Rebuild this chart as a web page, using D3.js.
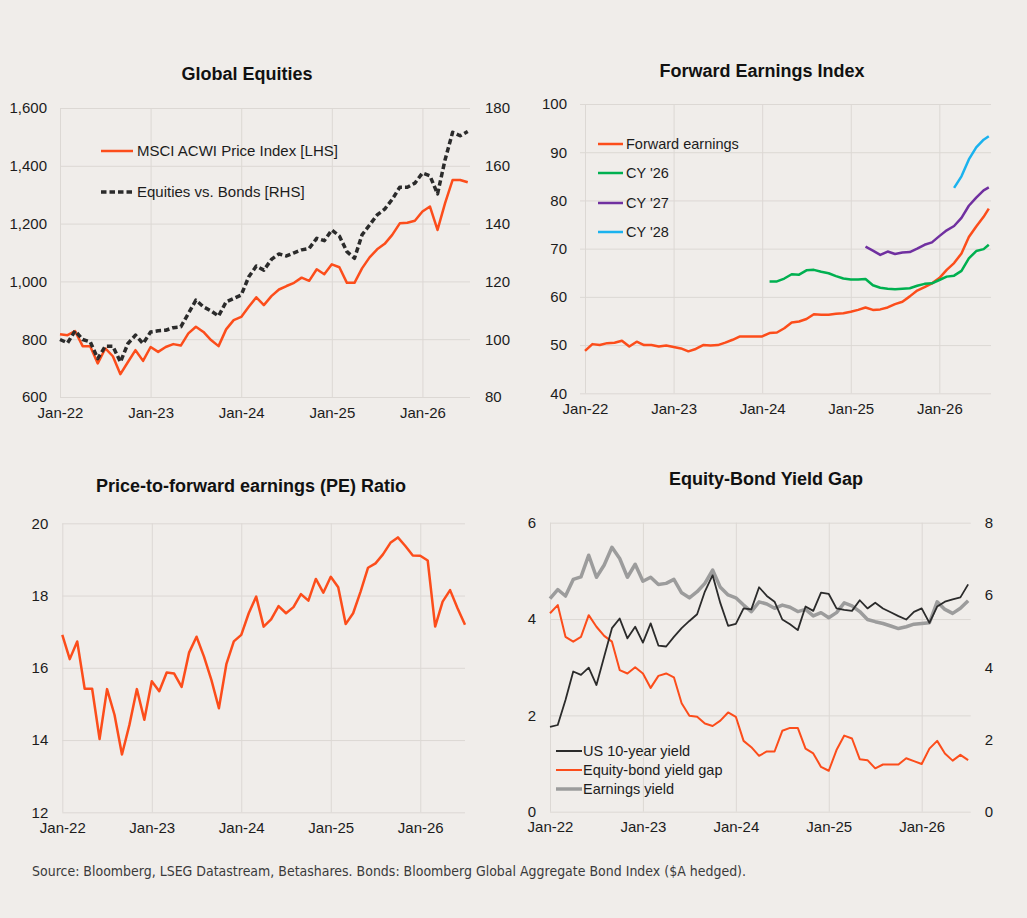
<!DOCTYPE html>
<html>
<head>
<meta charset="utf-8">
<script type="text/javascript" src="https://cdn.jsdelivr.net/npm/d3@7/dist/d3.min.js"></script>
<style>
body { margin: 0; background: #f0edea; }
</style>
</head>
<body>
<script>

// month-end data, index 0 = Jan-22
var months = d3.range(55);
var yearTicks = [0, 12, 24, 36, 48];
var yearLabels = ["Jan-22", "Jan-23", "Jan-24", "Jan-25", "Jan-26"];

// Global Equities
var msci = [817,814,828,776,776,716,768,741,679,721,
            762,725,773,756,773,783,778,820,843,825,
            797,776,834,866,877,912,945,918,949,972,
            984,995,1013,1002,1042,1025,1059,1049,995,995,
            1045,1083,1111,1130,1161,1201,1203,1210,1242,1259,
            1178,1271,1351,1351,1343];
var eqVsBonds = [99.9,98.7,102.9,99.9,99.1,93.3,97.6,97.6,92.1,98.5,
                 101.4,98.5,102.5,102.9,103.1,104.0,104.3,108.9,113.5,111.2,
                 109.8,108.0,112.9,114.1,115.3,121.6,125.3,123.9,127.6,129.5,
                 128.8,129.9,130.9,131.4,134.9,134.1,137.8,135.7,130.3,128.0,
                 136.1,139.5,143.0,145.0,148.4,152.6,152.6,154.0,157.5,156.5,
                 150.3,162.1,171.6,170.4,171.9];

// Forward Earnings Index (last observation is mid-month)
var fwdMonths = d3.range(55).concat([54.7]);
var fwdEarnings = [48.8,50.2,50.0,50.4,50.5,50.9,49.7,50.7,50.0,50.0,
                   49.7,49.9,49.6,49.3,48.7,49.2,50.0,49.9,50.0,50.5,
                   51.1,51.8,51.8,51.8,51.8,52.5,52.6,53.5,54.7,54.9,
                   55.4,56.4,56.3,56.3,56.5,56.6,56.9,57.3,57.8,57.3,
                   57.4,57.8,58.5,59.0,60.1,61.3,62.0,62.8,63.9,65.6,
                   67.0,69.0,72.4,74.6,76.6,78.3];
var cy26Start = 25;
var cy26 = [63.2,63.2,63.8,64.7,64.6,
            65.5,65.6,65.2,64.9,64.3,63.8,63.6,63.6,63.7,62.4,
            61.9,61.7,61.6,61.7,61.8,62.3,62.7,62.8,63.5,64.2,
            64.4,65.4,68.0,69.5,69.9,70.8];
var cy27Start = 38;
var cy27 = [70.4,69.6,
            68.7,69.4,68.9,69.2,69.3,70.0,70.8,71.3,72.6,73.8,
            74.7,76.4,78.9,80.6,82.1,82.7];
var cy28Start = 50;
var cy28 = [82.6,85.0,88.5,91.0,92.6,93.3];

// PE ratio
var peRatio = [16.91,16.24,16.73,15.42,15.42,14.03,15.41,14.70,13.60,14.42,
               15.41,14.56,15.63,15.35,15.87,15.84,15.47,16.42,16.86,16.31,
               15.66,14.88,16.10,16.73,16.91,17.51,17.97,17.14,17.34,17.71,
               17.51,17.68,18.04,17.86,18.46,18.08,18.52,18.23,17.21,17.51,
               18.11,18.77,18.89,19.14,19.46,19.61,19.37,19.11,19.10,18.97,
               17.14,17.83,18.15,17.65,17.19];

// Equity-bond yield gap
var us10y = [1.76,1.80,2.32,2.91,2.84,2.99,2.63,3.22,3.81,4.01,
             3.60,3.84,3.51,3.91,3.45,3.43,3.63,3.81,3.96,4.10,
             4.57,4.91,4.33,3.86,3.90,4.22,4.20,4.66,4.48,4.36,
             3.99,3.89,3.77,4.26,4.17,4.55,4.52,4.22,4.19,4.17,
             4.39,4.22,4.34,4.22,4.14,4.06,3.99,4.15,4.22,3.92,
             4.26,4.36,4.41,4.45,4.72];
var yieldGap = [4.12,4.29,3.63,3.53,3.63,4.08,3.84,3.65,3.53,2.94,
                2.87,3.00,2.87,2.57,2.82,2.87,2.79,2.25,1.99,1.97,
                1.83,1.78,1.89,2.06,1.97,1.47,1.34,1.16,1.25,1.25,
                1.68,1.74,1.74,1.31,1.21,0.93,0.85,1.28,1.58,1.52,
                1.09,1.07,0.90,0.98,0.98,0.98,1.11,1.05,0.99,1.31,
                1.47,1.21,1.06,1.18,1.07];
var earningsYield = [5.90,6.15,5.97,6.43,6.50,7.10,6.49,6.83,7.32,7.01,
                     6.49,6.85,6.38,6.49,6.29,6.32,6.43,6.06,5.92,6.09,
                     6.32,6.69,6.21,6.00,5.92,5.72,5.54,5.81,5.75,5.63,
                     5.72,5.66,5.54,5.60,5.42,5.51,5.37,5.51,5.78,5.70,
                     5.54,5.32,5.26,5.21,5.14,5.07,5.12,5.19,5.21,5.23,
                     5.81,5.60,5.49,5.63,5.84];

var width = 1027,
    height = 918,
    fontFamily = "'Liberation Sans', Arial, sans-serif",
    textColor = "#1c1c1c",
    gridColor = "#dcd8d4",
    orange = "#fc4d1b",
    darkGrey = "#2b2b2b",
    grey = "#9c9c9c",
    green = "#00b050",
    purple = "#7030a0",
    blue = "#1ab2ee";

var svg = d3.select("body").append("svg")
            .attr("width", width)
            .attr("height", height)
            .style("display", "block")
            .style("background", "#f0edea");

function styleAxis(sel, size) {
  sel.select(".domain").remove();
  sel.attr("font-family", fontFamily).attr("font-size", size);
  sel.selectAll("text").attr("fill", textColor);
}

// one chart panel: gridlines, tick labels and title
function panel(p) {
  var x = d3.scaleLinear().domain(p.xd).range([p.left, p.right]);
  var y = d3.scaleLinear().domain(p.yd).range([p.bottom, p.top]);
  var g = svg.append("g");

  g.append("g").attr("transform", "translate(" + p.left + ",0)")
   .call(d3.axisLeft(y).tickValues(p.yt).tickSize(-(p.right - p.left)).tickFormat(""))
   .call(styleAxis, 15)
   .selectAll("line").attr("stroke", gridColor);

  g.append("g").attr("transform", "translate(0," + p.bottom + ")")
   .call(d3.axisBottom(x).tickValues(yearTicks).tickSize(-(p.bottom - p.top)).tickFormat(""))
   .call(styleAxis, 15)
   .selectAll("line").attr("stroke", gridColor);

  g.append("g").attr("transform", "translate(0," + p.bottom + ")")
   .call(d3.axisBottom(x).tickValues(yearTicks).tickSize(0).tickPadding(10)
           .tickFormat(function (d, i) { return yearLabels[i]; }))
   .call(styleAxis, 15);

  g.append("g").attr("transform", "translate(" + p.left + ",0)")
   .call(d3.axisLeft(y).tickValues(p.yt).tickSize(0).tickPadding(p.lpad).tickFormat(p.fmt || d3.format("")))
   .call(styleAxis, 15);

  var y2 = null;
  if (p.y2d) {
    y2 = d3.scaleLinear().domain(p.y2d).range([p.bottom, p.top]);
    g.append("g").attr("transform", "translate(" + p.right + ",0)")
     .call(d3.axisRight(y2).tickValues(p.y2t).tickSize(0).tickPadding(p.rpad))
     .call(styleAxis, 15);
  }

  g.append("text")
   .attr("x", p.tx).attr("y", p.ty)
   .attr("text-anchor", "middle")
   .style("font", "bold 18px " + fontFamily)
   .style("fill", "#111")
   .text(p.title);

  return {x: x, y: y, y2: y2, g: g};
}

function drawLine(g, xs, ys, x, y, color, w, dash) {
  var line = d3.line()
               .x(function (d, i) { return x(xs[i]); })
               .y(function (d) { return y(d); });
  g.append("path")
   .datum(ys)
   .attr("d", line)
   .attr("fill", "none")
   .attr("stroke", color)
   .attr("stroke-width", w)
   .attr("stroke-linejoin", "round")
   .attr("stroke-dasharray", dash || null);
}

function legend(g, items, x0, x1, tx, size) {
  items.forEach(function (it) {
    g.append("line")
     .attr("x1", x0).attr("x2", x1).attr("y1", it.y).attr("y2", it.y)
     .attr("stroke", it.color).attr("stroke-width", it.w)
     .attr("stroke-dasharray", it.dash || null);
    g.append("text")
     .attr("x", tx).attr("y", it.y + 5)
     .style("font", size + "px " + fontFamily)
     .style("fill", textColor)
     .text(it.label);
  });
}

// --- Global Equities ---
var p1 = panel({left: 60, right: 470, top: 108, bottom: 397,
                xd: [0, 54.3], yd: [600, 1600], yt: d3.range(600, 1601, 200),
                fmt: d3.format(","), lpad: 13,
                y2d: [80, 180], y2t: d3.range(80, 181, 20), rpad: 15,
                title: "Global Equities", tx: 247, ty: 80});
drawLine(p1.g, months, msci, p1.x, p1.y, orange, 2.5);
drawLine(p1.g, months, eqVsBonds, p1.x, p1.y2, darkGrey, 3.5, "5.5,3");
legend(p1.g, [
  {label: "MSCI ACWI Price Index [LHS]", color: orange, w: 2.5, y: 151},
  {label: "Equities vs. Bonds [RHS]", color: darkGrey, w: 3.5, dash: "5.5,3", y: 192}
], 101, 133, 137, 15);

// --- Forward Earnings Index ---
var p2 = panel({left: 580, right: 991, top: 104, bottom: 393.3,
                xd: [-0.68, 55.0], yd: [40, 100], yt: d3.range(40, 101, 10), lpad: 13,
                title: "Forward Earnings Index", tx: 762, ty: 77});
drawLine(p2.g, fwdMonths, fwdEarnings, p2.x, p2.y, orange, 2.5);
drawLine(p2.g, fwdMonths.slice(cy26Start), cy26, p2.x, p2.y, green, 2.5);
drawLine(p2.g, fwdMonths.slice(cy27Start), cy27, p2.x, p2.y, purple, 2.5);
drawLine(p2.g, fwdMonths.slice(cy28Start), cy28, p2.x, p2.y, blue, 2.5);
legend(p2.g, [
  {label: "Forward earnings", color: orange, w: 2.5, y: 144},
  {label: "CY '26", color: green, w: 2.5, y: 173},
  {label: "CY '27", color: purple, w: 2.5, y: 203},
  {label: "CY '28", color: blue, w: 2.5, y: 232}
], 598, 623, 626, 14.5);

// --- PE ratio ---
var p3 = panel({left: 62.3, right: 465, top: 523.3, bottom: 812.3,
                xd: [0, 54], yd: [12, 20], yt: d3.range(12, 21, 2), lpad: 14,
                title: "Price-to-forward earnings (PE) Ratio", tx: 251, ty: 492});
drawLine(p3.g, months, peRatio, p3.x, p3.y, orange, 2.5);

// --- Equity-Bond Yield Gap ---
var p4 = panel({left: 550, right: 970.7, top: 522.7, bottom: 811.7,
                xd: [0, 54.33], yd: [0, 6], yt: [0, 2, 4, 6], lpad: 14,
                y2d: [0, 8], y2t: [0, 2, 4, 6, 8], rpad: 14,
                title: "Equity-Bond Yield Gap", tx: 766, ty: 485});
drawLine(p4.g, months, earningsYield, p4.x, p4.y2, grey, 3.5);
drawLine(p4.g, months, yieldGap, p4.x, p4.y, orange, 2);
drawLine(p4.g, months, us10y, p4.x, p4.y, darkGrey, 1.8);
legend(p4.g, [
  {label: "US 10-year yield", color: darkGrey, w: 2, y: 751},
  {label: "Equity-bond yield gap", color: orange, w: 2, y: 770},
  {label: "Earnings yield", color: grey, w: 3.5, y: 789}
], 556, 582, 583, 14.5);

// source note
svg.append("text")
   .attr("x", 32).attr("y", 876)
   .attr("textLength", 714)
   .attr("lengthAdjust", "spacingAndGlyphs")
   .style("font", "13.5px 'Liberation Sans Narrow', 'DejaVu Sans Condensed', sans-serif")
   .style("fill", "#3a3a3a")
   .text("Source: Bloomberg, LSEG Datastream, Betashares. Bonds: Bloomberg Global Aggregate Bond Index ($A hedged).");

</script>
</body>
</html>
